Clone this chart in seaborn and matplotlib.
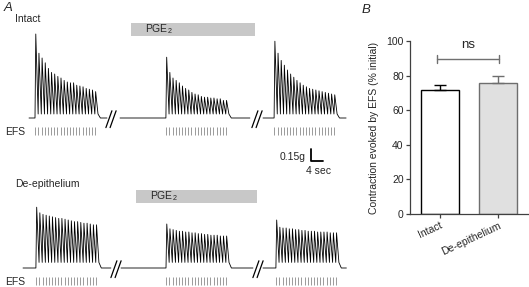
import numpy as np
import seaborn as sns
import matplotlib
matplotlib.use('Agg')
import matplotlib.pyplot as plt
from matplotlib.patches import Rectangle

# twitch peak tension above baseline (g), one value per EFS pulse (20 pulses per train)
intact_ctrl = [1.05, 0.81, 0.75, 0.69, 0.62, 0.57, 0.55, 0.52, 0.50, 0.47,
               0.45, 0.44, 0.44, 0.41, 0.40, 0.39, 0.37, 0.36, 0.35, 0.33]
intact_pge2 = [0.76, 0.57, 0.50, 0.47, 0.44, 0.40, 0.37, 0.35, 0.32, 0.30,
               0.29, 0.27, 0.26, 0.26, 0.25, 0.25, 0.24, 0.24, 0.22, 0.22]
intact_wash = [0.96, 0.81, 0.72, 0.66, 0.60, 0.55, 0.51, 0.47, 0.44, 0.41,
               0.39, 0.37, 0.36, 0.35, 0.34, 0.33, 0.32, 0.31, 0.30, 0.29]
deep_ctrl = [0.76, 0.69, 0.67, 0.66, 0.65, 0.64, 0.63, 0.62, 0.62, 0.61,
             0.60, 0.59, 0.58, 0.58, 0.57, 0.56, 0.56, 0.55, 0.54, 0.54]
deep_pge2 = [0.55, 0.49, 0.48, 0.47, 0.46, 0.46, 0.45, 0.45, 0.44, 0.44,
             0.43, 0.43, 0.42, 0.42, 0.41, 0.41, 0.41, 0.40, 0.40, 0.40]
deep_wash = [0.60, 0.51, 0.50, 0.50, 0.49, 0.49, 0.48, 0.48, 0.47, 0.47,
             0.46, 0.46, 0.46, 0.45, 0.45, 0.45, 0.45, 0.44, 0.44, 0.44]
intact_trough = 0.05
deep_trough = 0.07
period = 1.05  # sec between pulses

# resting time before / after each train (sec)
intact_pre = [2.0, 15.3, 3.7]
intact_post = [3.0, 7.0, 3.0]
deep_pre = [4.3, 15.0, 4.3]
deep_post = [4.0, 8.0, 2.5]

# panel B
groups = ['Intact', 'De-epithelium']
means = [71.5, 76.0]
sems = [3.3, 4.0]
ns_level = 89.5

W, H = 529, 287
sns.set_theme(style='white')
plt.rcParams['font.family'] = ['Liberation Sans', 'DejaVu Sans']
plt.rcParams['mathtext.fontset'] = 'custom'
plt.rcParams['mathtext.rm'] = 'Liberation Sans'

fig = plt.figure(figsize=(W / 100, H / 100), dpi=100)


def fx(px):
    return px / W


def fy(py):
    return 1 - py / H


def build_trace(peaks, trough, pre, post):
    t = [0.0, pre]
    y = [0.0, 0.0]
    for i, p in enumerate(peaks):
        t0 = pre + i * period
        t += [t0 + 0.25 * period, t0 + period]
        y += [p, trough]
    tend = pre + len(peaks) * period
    t += [tend + 0.8, tend + post]
    y += [0.0, 0.0]
    return np.array(t), np.array(y)


PX = 3.0  # px per sec
GPX = 80.0  # px per g


def trace_row(rect, base_px, top_px, seg_start_px, series, trough, pres, posts,
              breaks_px, pge_rect, label, label_y):
    ax = fig.add_axes(rect)
    ax.set_axis_off()
    h = (rect[3]) * H
    ax.set_xlim(0, 380 / PX)
    ax.set_ylim(-(top_px + h - base_px) / GPX, (base_px - top_px) / GPX)
    for s0, peaks, pre, post in zip(seg_start_px, series, pres, posts):
        t, y = build_trace(peaks, trough, pre, post)
        sns.lineplot(x=t + s0 / PX, y=y, ax=ax, color='black', lw=0.6,
                     sort=False, estimator=None)
        ticks = s0 / PX + pre + np.arange(len(peaks)) * period + 0.1
        ax.vlines(ticks, -0.21, -0.11, color='#8a8a8a', lw=0.6)
    for b in breaks_px:
        c = b / PX
        for d in (-0.7, 0.7):
            ax.plot([c + d - 1.0, c + d + 1.0], [-0.12, 0.09], color='black', lw=0.9)
    # PGE2 bar
    x0, y0, x1, y1 = pge_rect
    ax.add_patch(Rectangle((x0 / PX, (base_px - y1) / GPX), (x1 - x0) / PX,
                           (y1 - y0) / GPX, facecolor='#c8c8c8', edgecolor='none'))
    ax.text((x0 + 14) / PX, (base_px - (y0 + y1) / 2) / GPX, r'PGE$_\mathregular{2}$',
            fontsize=7.5, va='center', ha='left')
    fig.text(fx(15), fy(label_y), label, fontsize=7.5, va='center', ha='left')
    fig.text(fx(5), fy(base_px + 14), 'EFS', fontsize=7.5, va='center', ha='left')
    return ax


trace_row([0, 0.5, 380 / W, 0.5], 118, 0, [29, 120, 263],
          [intact_ctrl, intact_pge2, intact_wash], intact_trough,
          intact_pre, intact_post, [111, 257], (131, 23, 255, 36), 'Intact', 19)
trace_row([0, 0.0, 380 / W, 0.5], 268, H / 2, [23, 121, 263],
          [deep_ctrl, deep_pge2, deep_wash], deep_trough,
          deep_pre, deep_post, [116, 258], (136, 190, 257, 203),
          'De-epithelium', 184)

# scale bar
fig.add_artist(plt.Line2D([fx(311), fx(311), fx(323)], [fy(149), fy(161), fy(161)],
                          color='black', lw=1.3))
fig.text(fx(306), fy(157), '0.15g', fontsize=7.5, ha='right', va='center')
fig.text(fx(318), fy(171), '4 sec', fontsize=7.5, ha='center', va='center')

fig.text(fx(4), fy(8), 'A', fontsize=9.5, style='italic', va='center')
fig.text(fx(362), fy(10), 'B', fontsize=9.5, style='italic', va='center')

# panel B
axb = fig.add_axes([fx(410), fy(214), 118 / W, 173 / H])
sns.barplot(x=groups, y=means, hue=groups, palette=['white', '#e0e0e0'],
            width=0.67, edgecolor='black', linewidth=1.0, legend=False, ax=axb)
axb.patches[1].set_edgecolor('#6e6e6e')
axb.errorbar([0], [means[0]], yerr=[[0], [sems[0]]], fmt='none', ecolor='black',
             elinewidth=1.0, capsize=4.5, capthick=1.0)
axb.errorbar([1], [means[1]], yerr=[[0], [sems[1]]], fmt='none', ecolor='#6e6e6e',
             elinewidth=1.0, capsize=4.5, capthick=1.0)
axb.plot([-0.05, 1.02], [ns_level, ns_level], color='#707070', lw=1.0)
axb.plot([-0.05, -0.05], [ns_level - 2.5, ns_level + 2.5], color='#707070', lw=1.0)
axb.plot([1.02, 1.02], [ns_level - 2.5, ns_level + 2.5], color='#707070', lw=1.0)
axb.text(0.48, 94.5, 'ns', fontsize=9.5, ha='center', va='bottom')
axb.set_xlim(-0.517, 1.517)
axb.set_ylim(0, 100)
axb.set_yticks([0, 20, 40, 60, 80, 100])
axb.set_ylabel('Contraction evoked by EFS (% initial)', fontsize=7.5, labelpad=5)
axb.set_xlabel('')
for s in ('top', 'right'):
    axb.spines[s].set_visible(False)
for s in ('left', 'bottom'):
    axb.spines[s].set_color('#404040')
    axb.spines[s].set_linewidth(0.9)
axb.tick_params(axis='both', which='both', length=3, width=0.9, color='#404040',
                labelsize=7.5, pad=1.5, left=True, bottom=True)
for lab in axb.get_xticklabels():
    lab.set_rotation(25)
    lab.set_ha('right')
    lab.set_rotation_mode('anchor')

fig.savefig('out.png', dpi=100)
